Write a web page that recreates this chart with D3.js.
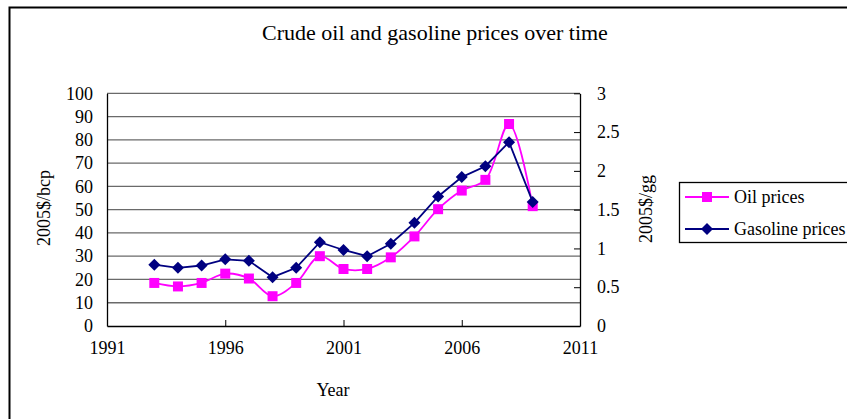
<!DOCTYPE html>
<html><head><meta charset="utf-8">
<script src="https://cdn.jsdelivr.net/npm/d3@7"></script>
<style>body{margin:0;background:#fff;} svg text{font-family:"Liberation Serif","Times New Roman",Times,"DejaVu Serif",serif !important;fill:#000;}</style>
</head><body><svg id="c" width="847" height="419"></svg>
<script>
const years = [1993,1994,1995,1996,1997,1998,1999,2000,2001,2002,2003,2004,2005,2006,2007,2008,2009];
const oilPrices = [18.5,17,18.5,22.5,20.4,12.8,18.5,30,24.5,24.5,29.5,38.5,50.2,58.2,62.8,86.8,51.5];
const gasolinePrices = [0.79,0.75,0.78,0.86,0.84,0.63,0.75,1.08,0.98,0.9,1.06,1.33,1.67,1.92,2.06,2.37,1.6];
const xTicks = [1991,1996,2001,2006,2011];
const leftTicks = [0,10,20,30,40,50,60,70,80,90,100];
const rightTicks = [0,0.5,1,1.5,2,2.5,3];
const seriesNames = ["Oil prices","Gasoline prices"];

const FONT = '"Liberation Serif","Times New Roman",Times,serif';
const svg = d3.select("#c");
const L=107, R=580, T=93.3, B=326;
const x = d3.scaleLinear().domain([1991,2011]).range([L,R]);
const yL = d3.scaleLinear().domain([0,100]).range([B,T]);
const yR = d3.scaleLinear().domain([0,3]).range([B,T]);

// outer border
svg.append("rect").attr("x",9.5).attr("y",7.5).attr("width",900).attr("height",500)
  .attr("fill","none").attr("stroke","#000").attr("stroke-width",2);

// title
svg.append("text").attr("x",435).attr("y",40).attr("text-anchor","middle")
  .attr("font-family",FONT).style("font-size","22px").text("Crude oil and gasoline prices over time");

// gridlines
svg.append("g").selectAll("line").data(leftTicks.filter(d=>d>0)).join("line")
  .attr("x1",L).attr("x2",R).attr("y1",d=>yL(d)).attr("y2",d=>yL(d))
  .attr("stroke","#6a6a6a").attr("stroke-width",1.3);

function styleAxis(g){
  g.attr("font-family",FONT).attr("font-size",18);
  g.select(".domain").attr("stroke","#000").attr("stroke-width",1.3);
  g.selectAll("line").attr("stroke","#000");
}
// left axis
const gl = svg.append("g").attr("transform",`translate(${L},0)`)
  .call(d3.axisLeft(yL).tickValues(leftTicks).tickSize(0).tickPadding(14));
styleAxis(gl);

// right axis
const gr = svg.append("g").attr("transform",`translate(${R},0)`)
  .call(d3.axisRight(yR).tickValues(rightTicks).tickSizeInner(-6).tickSizeOuter(0).tickPadding(17).tickFormat(d=>String(d)));
styleAxis(gr);

// bottom axis
const gb = svg.append("g").attr("transform",`translate(0,${B})`)
  .call(d3.axisBottom(x).tickValues(xTicks).tickSizeInner(-6).tickSizeOuter(0).tickPadding(15).tickFormat(d3.format("d")));
styleAxis(gb);

// axis titles
svg.append("text").attr("x",333).attr("y",396).attr("text-anchor","middle").attr("font-family",FONT).style("font-size","18px").text("Year");
svg.append("text").attr("transform","translate(50,208) rotate(-90)").attr("text-anchor","middle").attr("font-family",FONT).style("font-size","18px").text("2005$/bcp");
svg.append("text").attr("transform","translate(652,209) rotate(-90)").attr("text-anchor","middle").attr("font-family",FONT).style("font-size","18px").text("2005$/gg");

// oil line (smoothed)
const oilLine = d3.line().x((d,i)=>x(years[i])).y(d=>yL(d)).curve(d3.curveCatmullRom.alpha(0.5));
svg.append("path").datum(oilPrices).attr("d",oilLine).attr("fill","none").attr("stroke","#ff00ff").attr("stroke-width",1.8);
// gasoline line
const gasLine = d3.line().x((d,i)=>x(years[i])).y(d=>yR(d));
svg.append("path").datum(gasolinePrices).attr("d",gasLine).attr("fill","none").attr("stroke","#000080").attr("stroke-width",1.8);

const sq = d3.symbol().type(d3.symbolSquare).size(100);
const dmPath = "M0,-6L6,0L0,6L-6,0Z";
svg.append("g").selectAll("path").data(oilPrices).join("path")
  .attr("d",sq).attr("transform",(d,i)=>`translate(${x(years[i])},${yL(d)})`).attr("fill","#ff00ff");
svg.append("g").selectAll("path").data(gasolinePrices).join("path")
  .attr("d",dmPath).attr("transform",(d,i)=>`translate(${x(years[i])},${yR(d)})`).attr("fill","#000080");

// legend
const lg = svg.append("g");
lg.append("rect").attr("x",679.5).attr("y",182.5).attr("width",200).attr("height",60).attr("fill","#fff").attr("stroke","#000").attr("stroke-width",1.3);
const rows = [{n:seriesNames[0],c:"#ff00ff",s:sq(),y:197},{n:seriesNames[1],c:"#000080",s:dmPath,y:229}];
rows.forEach(r=>{
  lg.append("line").attr("x1",685).attr("x2",729).attr("y1",r.y).attr("y2",r.y).attr("stroke",r.c).attr("stroke-width",1.8);
  lg.append("path").attr("d",r.s).attr("transform",`translate(707,${r.y})`).attr("fill",r.c);
  lg.append("text").attr("x",734).attr("y",r.y).attr("dy","0.35em").attr("font-family",FONT).style("font-size","18px").text(r.n);
});
</script></body></html>
